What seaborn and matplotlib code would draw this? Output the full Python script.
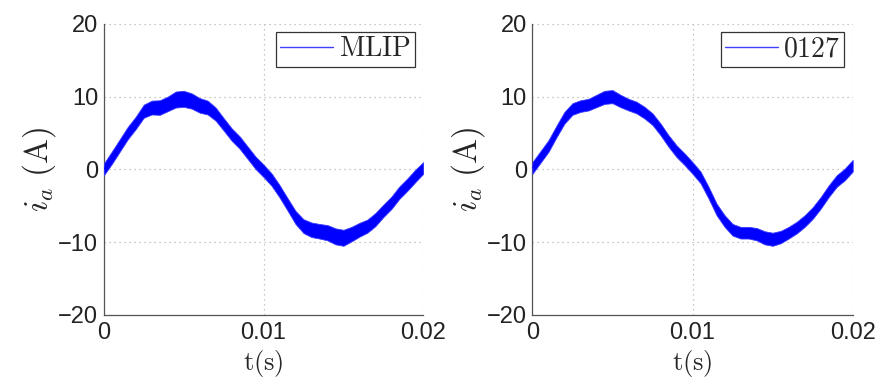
import matplotlib
matplotlib.use("Agg")
import matplotlib.pyplot as plt
import seaborn as sns
import numpy as np

# time base (s), one reading every 0.5 ms
t = [i * 0.0005 for i in range(41)]

# left panel (MLIP): centre of the current band and half-width of the ripple (A)
mlip_centre = [0.0, 1.6, 3.3, 5.0, 6.4, 8.0, 8.5, 8.5, 9.0, 9.6,
               9.7, 9.4, 8.8, 8.5, 7.6, 6.2, 4.8, 3.7, 2.3, 0.9,
               -0.2, -1.4, -3.0, -4.8, -6.6, -7.8, -8.3, -8.5, -8.7, -9.2,
               -9.4, -8.9, -8.3, -7.8, -6.9, -5.7, -4.6, -3.2, -2.1, -0.9,
               0.2]
mlip_ripple = [0.8, 0.85, 0.85, 0.85, 0.85, 0.9, 0.95, 1.0, 1.0, 1.1,
               1.1, 1.05, 1.0, 0.95, 0.9, 0.85, 0.85, 0.85, 0.85, 0.85,
               0.85, 0.85, 0.85, 0.85, 0.9, 0.95, 1.0, 1.0, 1.05, 1.1,
               1.1, 1.0, 0.95, 0.9, 0.9, 0.85, 0.85, 0.85, 0.85, 0.85,
               0.8]

# right panel (0127)
p0127_centre = [0.2, 1.7, 3.2, 5.2, 7.1, 8.3, 8.7, 8.9, 9.4, 9.9,
                10.0, 9.4, 8.9, 8.5, 7.8, 6.9, 5.5, 3.9, 2.5, 1.4,
                0.2, -1.1, -3.2, -5.5, -7.1, -8.3, -8.7, -8.7, -8.9, -9.4,
                -9.6, -9.3, -8.7, -8.0, -7.1, -6.0, -4.6, -3.0, -1.6, -0.7,
                0.5]
p0127_ripple = [0.8, 0.8, 0.8, 0.8, 0.8, 0.8, 0.8, 0.8, 0.85, 0.9,
                0.9, 0.85, 0.8, 0.8, 0.8, 0.8, 0.8, 0.8, 0.8, 0.8,
                0.8, 0.8, 0.8, 0.8, 0.8, 0.8, 0.8, 0.8, 0.85, 0.9,
                0.9, 0.85, 0.8, 0.8, 0.8, 0.8, 0.8, 0.8, 0.8, 0.8,
                0.8]

x_ticks = [0, 0.01, 0.02]
x_tick_labels = ["0", "0.01", "0.02"]
y_ticks = [-20, -10, 0, 10, 20]
y_tick_labels = ["\u221220", "\u221210", "0", "10", "20"]

sns.set_style("white")
plt.rcParams["font.family"] = ["Liberation Sans", "DejaVu Sans"]
plt.rcParams["mathtext.fontset"] = "cm"

fig = plt.figure(figsize=(8.8, 3.85), dpi=100)
ax1 = fig.add_axes([0.118, 0.182, 0.363, 0.756])
ax2 = fig.add_axes([0.605, 0.182, 0.364, 0.756])

panels = [
    (ax1, mlip_centre, mlip_ripple, r"$\mathrm{MLIP}$"),
    (ax2, p0127_centre, p0127_ripple, r"$\mathrm{0127}$"),
]

for ax, centre, ripple, name in panels:
    c = np.array(centre)
    r = np.array(ripple)
    ax.fill_between(t, c - r, c + r, color="#0000ff", lw=0.6,
                    edgecolor="#3a3aff", zorder=3)
    sns.lineplot(x=t, y=centre, color="#0000ff", lw=0.8, label=name,
                 ax=ax, zorder=4)

    ax.set_xlim(0, 0.02)
    ax.set_ylim(-20, 20)
    ax.set_xticks(x_ticks)
    ax.set_xticklabels(x_tick_labels)
    ax.set_yticks(y_ticks)
    ax.set_yticklabels(y_tick_labels)
    ax.tick_params(axis="both", direction="in", length=4, width=0.8,
                   labelsize=17, colors="#222222")
    ax.tick_params(axis="x", pad=5)
    ax.tick_params(axis="y", pad=4)

    ax.grid(True, color="#b5b5b5", linestyle=(0, (1, 3)), lw=0.9)
    for side in ["top", "right"]:
        ax.spines[side].set_visible(False)
    for side in ["left", "bottom"]:
        ax.spines[side].set_color("#555555")
        ax.spines[side].set_linewidth(0.9)

    ax.set_xlabel(r"$\mathrm{t(s)}$", fontsize=19, labelpad=0)
    ax.xaxis.set_label_coords(0.5, -0.112)
    ax.set_ylabel(r"$i_a\ \mathrm{(A)}$", fontsize=24, labelpad=0)

    leg = ax.legend(loc="upper right", fontsize=20, frameon=True,
                    fancybox=False, handlelength=1.9, handletextpad=0.2,
                    borderpad=0.15, borderaxespad=0.3)
    leg.get_frame().set_edgecolor("black")
    leg.get_frame().set_linewidth(0.9)
    for h in leg.get_lines():
        h.set_linewidth(1.0)
        h.set_color("#4040ff")

plt.savefig("out.png", dpi=100)
plt.close()
